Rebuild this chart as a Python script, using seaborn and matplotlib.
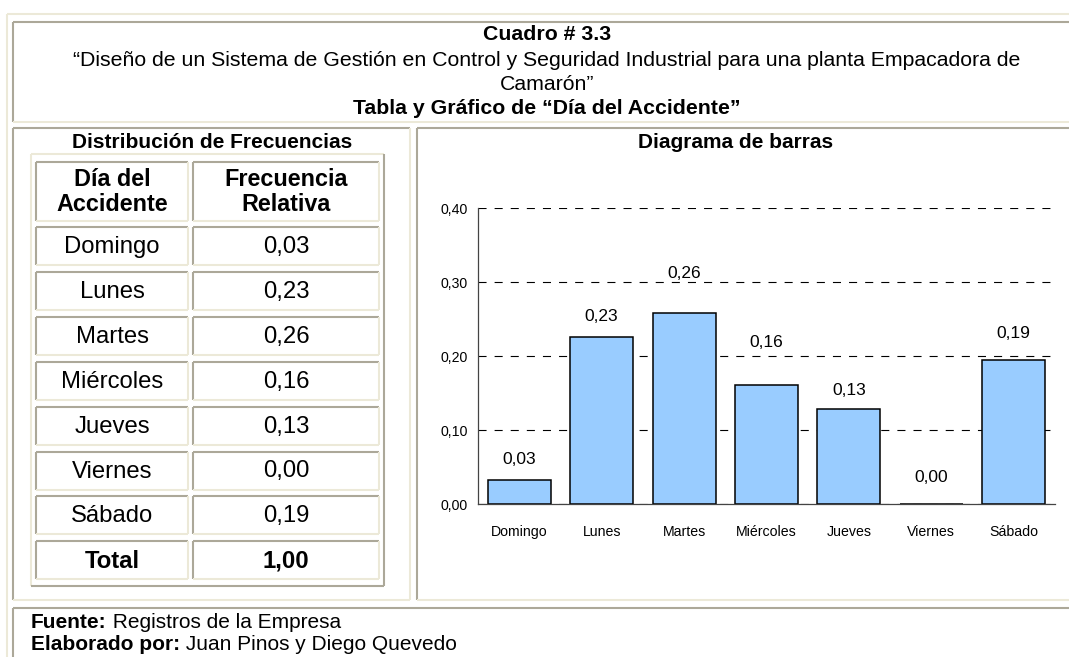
import matplotlib
matplotlib.use("Agg")
import matplotlib.pyplot as plt
import seaborn as sns
import pandas as pd
from matplotlib.lines import Line2D
from matplotlib import font_manager
from matplotlib.ticker import FixedLocator

# ---------------- data ----------------
days = ["Domingo", "Lunes", "Martes", "Miércoles", "Jueves", "Viernes", "Sábado"]
rel_freq = [0.032, 0.226, 0.258, 0.161, 0.129, 0.0, 0.194]
y_ticks = [0.0, 0.1, 0.2, 0.3, 0.4]

title_lines = [
    ("Cuadro # 3.3", "bold"),
    ("“Diseño de un Sistema de Gestión en Control y Seguridad Industrial para una planta Empacadora de", "normal"),
    ("Camarón”", "normal"),
    ("Tabla y Gráfico de “Día del Accidente”", "bold"),
]
left_title = "Distribución de Frecuencias"
right_title = "Diagrama de barras"
col_headers = ["Día del\nAccidente", "Frecuencia\nRelativa"]
total_name = "Total"

def fmt(v):
    return f"{v:.2f}".replace(".", ",")

# ---------------- style ----------------
sns.set_style("white")
plt.rcParams["font.family"] = ["Liberation Sans", "DejaVu Sans"]
plt.rcParams["lines.scale_dashes"] = False
for k in ["text.color", "axes.labelcolor", "xtick.color", "ytick.color"]:
    plt.rcParams[k] = "black"

names = {f.name for f in font_manager.fontManager.ttflist}
if "Liberation Sans Narrow" in names:
    NARROW = "Liberation Sans Narrow"
    fs_cat, fs_bar, fs_ytk = 11.5, 14, 11
else:
    NARROW = "Liberation Sans"
    fs_cat, fs_bar, fs_ytk = 10.2, 12.5, 10.2

BEIGE = "#ECE9D8"
GRAY = "#ACA899"
BAR = "#99CCFF"

W, H = 1069, 657
fig = plt.figure(figsize=(W / 100, H / 100), dpi=100)
fig.patch.set_facecolor("white")

bg = fig.add_axes([0, 0, 1, 1])
bg.set_xlim(0, W)
bg.set_ylim(H, 0)
bg.axis("off")

LW = 1.5

def hline(x0, x1, y, c):
    bg.add_line(Line2D([x0, x1], [y, y], color=c, lw=LW, solid_capstyle="butt"))

def vline(x, y0, y1, c):
    bg.add_line(Line2D([x, x], [y0, y1], color=c, lw=LW, solid_capstyle="butt"))

def box(x0, y0, x1, y1, outset=False):
    tl, br = (BEIGE, GRAY) if outset else (GRAY, BEIGE)
    hline(x0, x1, y0, tl)
    vline(x0, y0, y1, tl)
    hline(x0, x1, y1, br)
    vline(x1, y0, y1, br)

# outer table frame
hline(7, W + 5, 14, BEIGE)
vline(7, 14, H + 5, BEIGE)
# cells
box(13, 22, W + 10, 122)      # title
box(13, 128, 410, 600)        # left panel
box(417, 128, W + 10, 600)    # right panel
box(13, 608, W + 10, H + 10)  # footer

# title text
cx = 547
ty = [35, 60, 84, 108]
for (txt, wt), y in zip(title_lines, ty):
    bg.text(cx, y, txt, ha="center", va="center", fontsize=15.3, fontweight=wt)

bg.text(212, 143, left_title, ha="center", va="center", fontsize=15, fontweight="bold")
bg.text(736, 143, right_title, ha="center", va="center", fontsize=15, fontweight="bold")

# frequency table
box(31, 154, 384, 586, outset=True)
c1 = (36, 188)
c2 = (193, 379)
box(c1[0], 162, c1[1], 221)
box(c2[0], 162, c2[1], 221)
bg.text(sum(c1) / 2, 192, col_headers[0], ha="center", va="center", fontsize=16.8,
        fontweight="bold", linespacing=1.1)
bg.text(sum(c2) / 2, 192, col_headers[1], ha="center", va="center", fontsize=16.8,
        fontweight="bold", linespacing=1.1)

rows = [(d, fmt(v), "normal") for d, v in zip(days, rel_freq)]
rows.append((total_name, fmt(sum(rel_freq)), "bold"))
pitch = 44.9
for i, (d, v, wt) in enumerate(rows):
    y0 = 227 + pitch * i
    y1 = y0 + 38
    box(c1[0], y0, c1[1], y1)
    box(c2[0], y0, c2[1], y1)
    ym = (y0 + y1) / 2 + 1
    bg.text(sum(c1) / 2, ym, d, ha="center", va="center", fontsize=17.2, fontweight=wt)
    bg.text(sum(c2) / 2, ym, v, ha="center", va="center", fontsize=17.2, fontweight=wt)

# footer
fx = 31
t1 = bg.text(fx, 623, "Fuente:", ha="left", va="center", fontsize=15, fontweight="bold")
t2 = bg.text(fx, 645, "Elaborado por:", ha="left", va="center", fontsize=15, fontweight="bold")
fig.canvas.draw()
r = fig.canvas.get_renderer()
for t, rest in [(t1, " Registros de la Empresa"), (t2, " Juan Pinos y Diego Quevedo")]:
    bb = t.get_window_extent(renderer=r)
    xe = bb.x1
    bg.text(xe, t.get_position()[1], rest, ha="left", va="center", fontsize=15,
            transform=matplotlib.transforms.blended_transform_factory(
                matplotlib.transforms.IdentityTransform(), bg.transData))

# ---------------- bar chart ----------------
ax_l, ax_r, ax_b, ax_t = 478, 1055, 504, 208
ax = fig.add_axes([ax_l / W, 1 - ax_b / H, (ax_r - ax_l) / W, (ax_b - ax_t) / H])
df = pd.DataFrame({"dia": days, "freq": rel_freq})
sns.barplot(data=df, x="dia", y="freq", order=days, color=BAR, saturation=1,
            edgecolor="black", linewidth=1.1, width=0.765, ax=ax, zorder=3)
ax.set_facecolor("none")
ax.set_xlim(-0.5, len(days) - 0.5)
ax.set_ylim(0, 0.4)
ax.set_xlabel("")
ax.set_ylabel("")
ax.set_yticks(y_ticks)
ax.set_yticklabels([fmt(t) for t in y_ticks], fontsize=fs_ytk, family=NARROW)
ax.set_xticks(range(len(days)))
ax.set_xticklabels(days, fontsize=fs_cat, family=NARROW)
ax.xaxis.set_minor_locator(FixedLocator([i - 0.5 for i in range(len(days) + 1)]))
ax.tick_params(axis="x", which="major", length=0, pad=15)
ax.tick_params(axis="x", which="minor", length=4, width=0.9, color="#444444", direction="out")
ax.tick_params(axis="y", which="major", length=3.5, width=0.9, color="#444444", direction="out", pad=4)
ax.grid(False)
ax.yaxis.grid(True, color="black", lw=0.8, linestyle=(0, (5.8, 5.8)), zorder=0)
ax.set_axisbelow(True)
for s in ["top", "right"]:
    ax.spines[s].set_visible(False)
for s in ["left", "bottom"]:
    ax.spines[s].set_visible(True)
    ax.spines[s].set_color("#444444")
    ax.spines[s].set_linewidth(0.9)
    ax.spines[s].set_zorder(4)

label_offsets_px = [21, 20, 40, 42, 18, 27, 27]
for i, (v, off) in enumerate(zip(rel_freq, label_offsets_px)):
    ax.annotate(fmt(v), (i, v), xytext=(0, off * 0.72), textcoords="offset points",
                ha="center", va="center", fontsize=fs_bar, family=NARROW, zorder=5)

fig.savefig("out.png", dpi=100, facecolor="white")
